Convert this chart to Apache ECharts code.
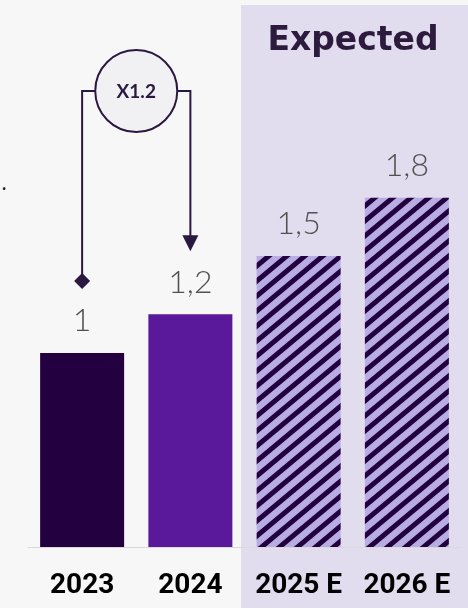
<!DOCTYPE html>
<html><head><meta charset="utf-8">
<script src="https://cdn.jsdelivr.net/npm/echarts@6/dist/echarts.min.js"></script>
<style>html,body{margin:0;padding:0;background:#f7f7f7}#c{width:468px;height:608px}</style>
</head><body><div id="c"></div>
<script>
const categories = ['2023', '2024', '2025 E', '2026 E'];
const values = [1, 1.2, 1.5, 1.8];
const valueLabels = ['1', '1,2', '1,5', '1,8'];
const isForecast = [false, false, true, true];
const multiplierText = 'X1.2';
const expectedTitle = 'Expected';

const barColors = ['#230040', '#5a189a'];
const ink = '#2a1840';

// diagonal "/" hatch tile
function makeHatch() {
  const w = 18, h = 15;
  const c = document.createElement('canvas');
  c.width = w; c.height = h;
  const g = c.getContext('2d');
  g.fillStyle = '#b8ade3';
  g.fillRect(0, 0, w, h);
  g.strokeStyle = '#230040';
  g.lineWidth = 5;
  for (let k = -1; k <= 1; k++) {
    g.beginPath();
    g.moveTo(k * w - 2, h + 15 / 18 * 2);
    g.lineTo(k * w + w + 2, -15 / 18 * 2);
    g.stroke();
  }
  return c;
}
const hatch = makeHatch();

const chart = echarts.init(document.getElementById('c'), null, {renderer: 'canvas'});

const data = values.map((v, i) => ({
  value: v,
  itemStyle: {color: isForecast[i] ? {image: hatch, repeat: 'repeat'} : barColors[i]}
}));

const bgRect = {type: 'rect', z: -10, shape: {x: 241, y: 5, width: 227, height: 603}, style: {fill: '#e1ddef'}};

chart.setOption({
  backgroundColor: '#f7f7f7',
  animation: false,
  grid: {left: 28, right: 7, top: 62, bottom: 61},
  xAxis: {
    type: 'category',
    data: categories,
    axisLine: {lineStyle: {color: '#d9d9d9', width: 1}},
    axisTick: {show: false},
    axisLabel: {
      interval: 0,
      color: '#000', fontSize: 28, fontWeight: 'bold',
      fontFamily: 'Roboto, sans-serif', margin: 25
    }
  },
  yAxis: {type: 'value', min: 0, max: 2.5, show: false, splitLine: {show: false}},
  graphic: [bgRect],
  series: [{
    type: 'bar',
    data: data,
    barWidth: 84,
    label: {
      show: true, position: 'top', distance: 16,
      formatter: p => valueLabels[p.dataIndex],
      color: '#505050', fontSize: 32, fontWeight: 300,
      fontFamily: 'Lato, "Open Sans", sans-serif'
    }
  }]
});

const x0 = chart.convertToPixel({xAxisIndex: 0}, categories[0]);
const x1 = chart.convertToPixel({xAxisIndex: 0}, categories[1]);
const cx = (x0 + x1) / 2;
const cy = 91;
const r = 41;
const top0 = chart.convertToPixel({yAxisIndex: 0}, values[0]);
const top1 = chart.convertToPixel({yAxisIndex: 0}, values[1]);
const dY = top0 - 72;
const aY = top1 - 63;

chart.setOption({
  graphic: [
    bgRect,
    {type: 'polyline', z: 10, shape: {points: [[x0, dY], [x0, cy], [cx - r, cy]]}, style: {stroke: ink, lineWidth: 2, fill: null}},
    {type: 'polygon', z: 10, shape: {points: [[x0, dY - 8], [x0 + 8, dY], [x0, dY + 8], [x0 - 8, dY]]}, style: {fill: ink}},
    {type: 'polyline', z: 10, shape: {points: [[cx + r, cy], [x1, cy], [x1, aY - 15]]}, style: {stroke: ink, lineWidth: 2, fill: null}},
    {type: 'polygon', z: 10, shape: {points: [[x1 - 8, aY - 16], [x1 + 8, aY - 16], [x1, aY]]}, style: {fill: ink}},
    {type: 'circle', z: 11, shape: {cx: cx, cy: cy, r: r}, style: {fill: '#f1f1f3', stroke: ink, lineWidth: 2}},
    {type: 'text', z: 12, x: cx, y: cy + 1, style: {text: multiplierText, fill: ink, fontSize: 19, fontWeight: 'bold', fontFamily: 'Lato, sans-serif', align: 'center', verticalAlign: 'middle'}},
    {type: 'text', z: 12, x: 353, y: 41, style: {text: expectedTitle, fill: '#2d1b3d', fontSize: 33, fontWeight: 'bold', fontFamily: '"DejaVu Sans", sans-serif', align: 'center', verticalAlign: 'middle'}},
    {type: 'text', z: 12, x: 2, y: 175, style: {text: '.', fill: '#222', fontSize: 18, fontWeight: 'bold', fontFamily: 'Lato, sans-serif'}}
  ]
});
</script>
</body></html>
